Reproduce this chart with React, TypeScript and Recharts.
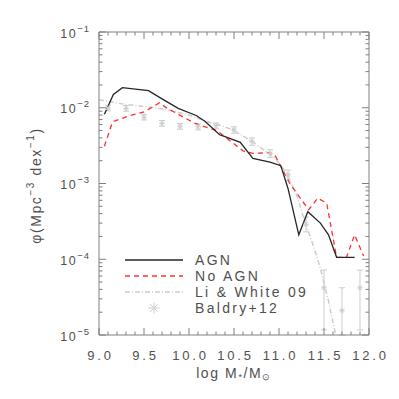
import React from 'react';
import { ComposedChart, Line, Scatter, XAxis, YAxis, ErrorBar, Legend } from 'recharts';

// AGN run
const agnMass = [9.06, 9.16, 9.26, 9.55, 9.7, 9.88, 10.08, 10.18, 10.34, 10.4, 10.57, 10.71, 10.9, 11.02, 11.1, 11.22, 11.32, 11.46, 11.55, 11.64, 11.84];
const agnPhi = [8.2e-3, 1.5e-2, 1.84e-2, 1.68e-2, 1.31e-2, 9.8e-3, 7.9e-3, 6.6e-3, 4.4e-3, 4.15e-3, 3.5e-3, 2.15e-3, 1.92e-3, 1.72e-3, 8.6e-4, 2.1e-4, 4.25e-4, 3.0e-4, 2.1e-4, 1.06e-4, 1.06e-4];

// No AGN run
const noAgnMass = [9.06, 9.15, 9.33, 9.51, 9.67, 9.76, 9.88, 10.07, 10.18, 10.31, 10.42, 10.6, 10.71, 10.9, 10.96, 11.12, 11.33, 11.43, 11.53, 11.64, 11.75, 11.84, 11.94];
const noAgnPhi = [3.1e-3, 6.5e-3, 7.8e-3, 8.9e-3, 1.16e-2, 9.8e-3, 8.2e-3, 6.2e-3, 5.6e-3, 5.0e-3, 3.95e-3, 2.7e-3, 2.5e-3, 2.55e-3, 2.3e-3, 1.0e-3, 4.5e-4, 6.4e-4, 5.5e-4, 1.06e-4, 1.06e-4, 2.1e-4, 1.1e-4];

// Li & White 09
const liWhiteMass = [9.0, 9.2, 9.4, 9.6, 9.8, 10.0, 10.2, 10.4, 10.5, 10.7, 10.95, 11.08, 11.2, 11.3, 11.36, 11.46, 11.55, 11.63];
const liWhitePhi = [1.28e-2, 1.15e-2, 1.07e-2, 1.01e-2, 9.2e-3, 8.0e-3, 6.6e-3, 5.6e-3, 5.0e-3, 3.6e-3, 2.2e-3, 1.4e-3, 6.8e-4, 2.8e-4, 1.8e-4, 7.6e-5, 2.8e-5, 1.0e-5];

// Baldry+12
const baldryMass = [9.1, 9.3, 9.5, 9.7, 9.9, 10.1, 10.3, 10.5, 10.7, 10.9, 11.1, 11.3, 11.5, 11.7, 11.9];
const baldryPhi = [9.9e-3, 9.8e-3, 7.5e-3, 6.2e-3, 5.7e-3, 5.6e-3, 5.8e-3, 5.1e-3, 3.6e-3, 2.5e-3, 1.3e-3, 2.9e-4, 4.2e-5, 2.1e-5, 4.2e-5];
const baldryLow = [9.1e-3, 9.0e-3, 6.9e-3, 5.7e-3, 5.2e-3, 5.1e-3, 5.3e-3, 4.6e-3, 3.2e-3, 2.2e-3, 1.1e-3, 2.3e-4, 1.17e-5, 1.0e-5, 1.17e-5];
const baldryHigh = [1.08e-2, 1.07e-2, 8.2e-3, 6.8e-3, 6.2e-3, 6.1e-3, 6.3e-3, 5.6e-3, 4.0e-3, 2.8e-3, 1.5e-3, 3.6e-4, 7.2e-5, 4.2e-5, 7.2e-5];

const xMajorTicks = [9.0, 9.5, 10.0, 10.5, 11.0, 11.5, 12.0];
const xTickLabels = ['9.0', '9.5', '10.0', '10.5', '11.0', '11.5', '12.0'];
const yMajorTicks = [1e-5, 1e-4, 1e-3, 1e-2, 1e-1];
const yTickExponents = ['\u22125', '\u22124', '\u22123', '\u22122', '\u22121'];

const xMinorTicks: number[] = [];
xMajorTicks.slice(0, -1).forEach((t) => {
  for (let k = 1; k < 5; k++) xMinorTicks.push(Math.round((t + k * 0.1) * 10) / 10);
});
const xTicks = [...xMajorTicks, ...xMinorTicks].sort((a, b) => a - b);

const yTicks: number[] = [];
yMajorTicks.forEach((d, i) => {
  yTicks.push(d);
  if (i < yMajorTicks.length - 1) for (let k = 2; k < 10; k++) yTicks.push(Number((k * d).toPrecision(3)));
});

const toPoints = (mass: number[], phi: number[]) => mass.map((m, i) => ({ m, phi: phi[i] }));
const agnData = toPoints(agnMass, agnPhi);
const noAgnData = toPoints(noAgnMass, noAgnPhi);
const liWhiteData = toPoints(liWhiteMass, liWhitePhi);
const baldryData = baldryMass.map((m, i) => ({
  m,
  phi: baldryPhi[i],
  err: [baldryPhi[i] - baldryLow[i], baldryHigh[i] - baldryPhi[i]],
}));

const AXIS = '#808080';
const TEXT = '#505050';
const FONT = '"Liberation Sans", Arial, sans-serif';
const GRAY = '#cdcdcd';
const RED = '#ff3030';
const MAJOR_LEN = 7;
const MINOR_LEN = 3.5;

const isXMajor = (v: number) => xMajorTicks.findIndex((t) => Math.abs(t - v) < 1e-6);
const isYMajor = (v: number) => yMajorTicks.findIndex((t) => Math.abs(t - v) / t < 1e-6);

function XTick(props: any) {
  const { x, y, payload, side } = props;
  const idx = isXMajor(payload.value);
  const len = idx >= 0 ? MAJOR_LEN : MINOR_LEN;
  const dir = side === 'bottom' ? -1 : 1;
  return (
    <g>
      <line x1={x} y1={y} x2={x} y2={y + dir * len} stroke={AXIS} strokeWidth={1} />
      {side === 'bottom' && idx >= 0 && (
        <text x={x + 1.5} y={y + 24.5} textAnchor="middle" fontSize={13} letterSpacing={2.8} fill={TEXT} fontFamily={FONT}>
          {xTickLabels[idx]}
        </text>
      )}
    </g>
  );
}

function YTick(props: any) {
  const { x, y, payload, side } = props;
  const idx = isYMajor(payload.value);
  const len = idx >= 0 ? MAJOR_LEN : MINOR_LEN;
  const dir = side === 'left' ? 1 : -1;
  return (
    <g>
      <line x1={x} y1={y} x2={x + dir * len} y2={y} stroke={AXIS} strokeWidth={1} />
      {side === 'left' && idx >= 0 && (
        <text x={x - 9} y={y + 5.5} textAnchor="end" fontSize={12.5} letterSpacing={1.5} fill={TEXT} fontFamily={FONT}>
          10
          <tspan dy={-6} fontSize={9.5} letterSpacing={1}>
            {yTickExponents[idx]}
          </tspan>
        </text>
      )}
    </g>
  );
}

function YTitle(props: any) {
  const { viewBox } = props;
  const cx = viewBox.x + 37;
  const cy = viewBox.y + viewBox.height / 2 + 2;
  return (
    <text x={cx} y={cy} transform={`rotate(-90 ${cx} ${cy})`} textAnchor="middle" dominantBaseline="middle" fontSize={14} letterSpacing={1.6} fill={TEXT} fontFamily={FONT}>
      {'\u03c6(Mpc'}
      <tspan dy={-6} fontSize={10}>{'\u22123'}</tspan>
      <tspan dy={6}>{' dex'}</tspan>
      <tspan dy={-6} fontSize={10}>{'\u22121'}</tspan>
      <tspan dy={6}>{')'}</tspan>
    </text>
  );
}

function XTitle(props: any) {
  const { viewBox } = props;
  const cx = viewBox.x + viewBox.width / 2;
  const cy = viewBox.y + 43;
  return (
    <text x={cx} y={cy} textAnchor="middle" fontSize={14} letterSpacing={1.6} fill={TEXT} fontFamily={FONT}>
      {'log M'}
      <tspan dy={2} fontSize={9}>*</tspan>
      <tspan dy={-2}>{'/M'}</tspan>
      <tspan dy={2} fontSize={9}>{'\u2299'}</tspan>
    </text>
  );
}

function Asterisk({ cx, cy, r, color }: { cx: number; cy: number; r: number; color: string }) {
  const d = r * 0.707;
  return (
    <g stroke={color} strokeWidth={1}>
      <line x1={cx - r} y1={cy} x2={cx + r} y2={cy} />
      <line x1={cx} y1={cy - r} x2={cx} y2={cy + r} />
      <line x1={cx - d} y1={cy - d} x2={cx + d} y2={cy + d} />
      <line x1={cx - d} y1={cy + d} x2={cx + d} y2={cy - d} />
    </g>
  );
}

const legendRows = [
  { label: 'AGN', stroke: '#262626', dash: undefined as string | undefined, marker: false },
  { label: 'No AGN', stroke: RED, dash: '5 4', marker: false },
  { label: 'Li & White 09', stroke: GRAY, dash: '5 2 1 2', marker: false },
  { label: 'Baldry+12', stroke: GRAY, dash: undefined, marker: true },
];

function LegendBox() {
  return (
    <svg width={170} height={72} style={{ overflow: 'visible' }}>
      {legendRows.map((row, i) => {
        const y = 12 + i * 16;
        return (
          <g key={row.label}>
            {row.marker ? (
              <Asterisk cx={39} cy={y} r={5.5} color={row.stroke} />
            ) : (
              <line x1={10} y1={y} x2={68} y2={y} stroke={row.stroke} strokeWidth={1.3} strokeDasharray={row.dash} />
            )}
            <text x={80} y={y + 5} fontSize={14} letterSpacing={2.3} fill={TEXT} fontFamily={FONT}>
              {row.label}
            </text>
          </g>
        );
      })}
    </svg>
  );
}

export default function App() {
  return (
    <div style={{ position: 'absolute', left: 0, top: 0, width: 399, height: 399, background: '#fff' }}>
      <ComposedChart width={399} height={399} margin={{ top: 31, right: 29, bottom: 0, left: 0 }}>
        <XAxis
          xAxisId="b"
          dataKey="m"
          type="number"
          domain={[9, 12]}
          allowDataOverflow
          ticks={xTicks}
          interval={0}
          height={64}
          tickSize={0}
          tickMargin={0}
          tickLine={false}
          axisLine={{ stroke: AXIS }}
          tick={(p: any) => <XTick {...p} side="bottom" />}
          label={<XTitle />}
        />
        <XAxis
          xAxisId="t"
          orientation="top"
          dataKey="m"
          type="number"
          domain={[9, 12]}
          allowDataOverflow
          ticks={xTicks}
          interval={0}
          height={1}
          tickSize={0}
          tickMargin={0}
          tickLine={false}
          axisLine={{ stroke: AXIS }}
          tick={(p: any) => <XTick {...p} side="top" />}
        />
        <YAxis
          yAxisId="l"
          dataKey="phi"
          scale="log"
          type="number"
          domain={[1e-5, 1e-1]}
          allowDataOverflow
          ticks={yTicks}
          interval={0}
          width={99}
          tickSize={0}
          tickMargin={0}
          tickLine={false}
          axisLine={{ stroke: AXIS }}
          tick={(p: any) => <YTick {...p} side="left" />}
          label={<YTitle />}
        />
        <YAxis
          yAxisId="r"
          orientation="right"
          dataKey="phi"
          scale="log"
          type="number"
          domain={[1e-5, 1e-1]}
          allowDataOverflow
          ticks={yTicks}
          interval={0}
          width={1}
          tickSize={0}
          tickMargin={0}
          tickLine={false}
          axisLine={{ stroke: AXIS }}
          tick={(p: any) => <YTick {...p} side="right" />}
        />
        <Scatter
          name="Baldry+12"
          data={baldryData}
          dataKey="phi"
          xAxisId="b"
          yAxisId="l"
          isAnimationActive={false}
          shape={(p: any) => <Asterisk cx={p.cx} cy={p.cy} r={2.8} color={GRAY} />}
        >
          <ErrorBar dataKey="err" direction="y" width={3} stroke={GRAY} strokeWidth={1} />
        </Scatter>
        <Line
          name="Li & White 09"
          data={liWhiteData}
          dataKey="phi"
          xAxisId="t"
          yAxisId="r"
          stroke={GRAY}
          strokeWidth={1.5}
          strokeDasharray="5 2 1 2"
          dot={false}
          isAnimationActive={false}
        />
        <Line
          name="No AGN"
          data={noAgnData}
          dataKey="phi"
          xAxisId="b"
          yAxisId="l"
          stroke={RED}
          strokeWidth={1.3}
          strokeDasharray="5 4"
          dot={false}
          isAnimationActive={false}
        />
        <Line
          name="AGN"
          data={agnData}
          dataKey="phi"
          xAxisId="b"
          yAxisId="l"
          stroke="#262626"
          strokeWidth={1.3}
          dot={false}
          isAnimationActive={false}
        />
        <Legend
          layout="vertical"
          align="center"
          verticalAlign="middle"
          content={() => <LegendBox />}
          wrapperStyle={{ left: 115, top: 248, width: 170, height: 72 }}
        />
      </ComposedChart>
    </div>
  );
}
